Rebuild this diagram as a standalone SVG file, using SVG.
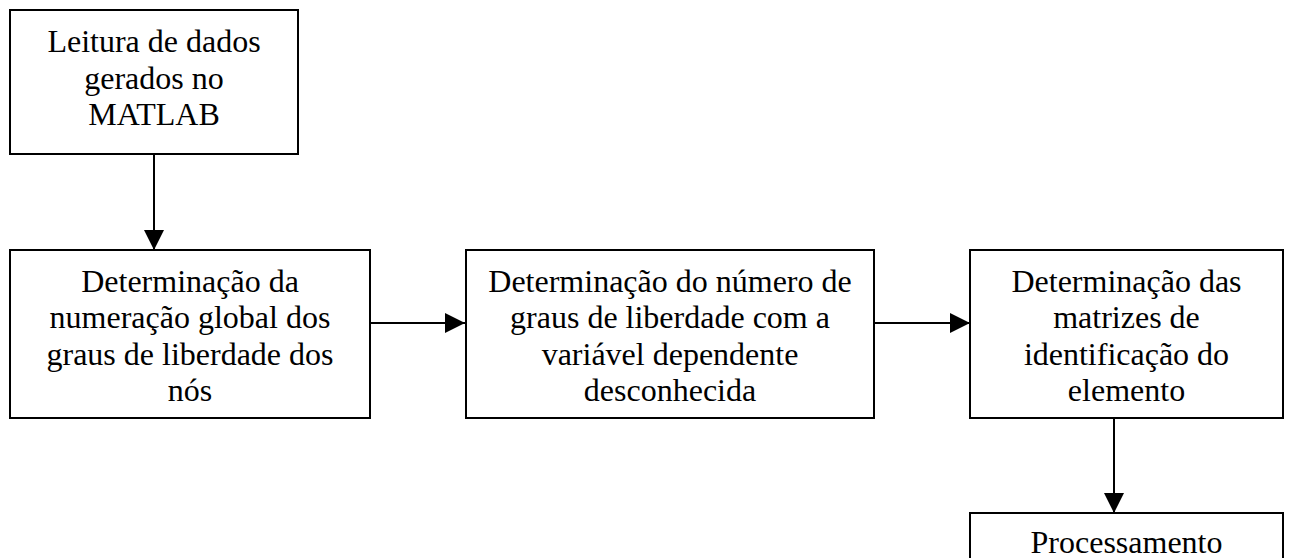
<svg xmlns="http://www.w3.org/2000/svg" width="1289" height="558" viewBox="0 0 1289 558">
<style>
.box{fill:#fff;stroke:#000;stroke-width:2}
.lbl{font-family:"Liberation Serif","Times New Roman",serif;font-size:32px;fill:#000;text-anchor:middle}
.edge{stroke:#000;stroke-width:2;fill:none}
</style>
<defs>
<marker id="ah" markerUnits="userSpaceOnUse" markerWidth="20" markerHeight="20" refX="20" refY="10" orient="auto" viewBox="0 0 20 20">
<path d="M0,0 L20,10 L0,20 z" fill="#000"/>
</marker>
</defs>
<rect width="1289" height="558" fill="#fff"/>
<g id="connectors">
<line class="edge" x1="154" y1="155" x2="154" y2="250" marker-end="url(#ah)"/>
<line class="edge" x1="371" y1="323" x2="465" y2="323" marker-end="url(#ah)"/>
<line class="edge" x1="875" y1="323" x2="970" y2="323" marker-end="url(#ah)"/>
<line class="edge" x1="1114" y1="419" x2="1114" y2="513" marker-end="url(#ah)"/>
</g>
<g id="n1">
<rect class="box" x="10" y="10" width="288" height="144"/>
<text class="lbl" x="154" y="52">Leitura de dados</text>
<text class="lbl" x="154" y="88.5">gerados no</text>
<text class="lbl" x="154" y="125">MATLAB</text>
</g>
<g id="n2">
<rect class="box" x="10" y="250" width="360" height="168"/>
<text class="lbl" x="190" y="291.5">Determinação da</text>
<text class="lbl" x="190" y="328">numeração global dos</text>
<text class="lbl" x="190" y="364.5">graus de liberdade dos</text>
<text class="lbl" x="190" y="401">nós</text>
</g>
<g id="n3">
<rect class="box" x="466" y="250" width="408" height="168"/>
<text class="lbl" x="670" y="291.5">Determinação do número de</text>
<text class="lbl" x="670" y="328">graus de liberdade com a</text>
<text class="lbl" x="670" y="364.5">variável dependente</text>
<text class="lbl" x="670" y="401">desconhecida</text>
</g>
<g id="n4">
<rect class="box" x="970" y="250" width="313" height="168"/>
<text class="lbl" x="1126.5" y="291.5">Determinação das</text>
<text class="lbl" x="1126.5" y="328">matrizes de</text>
<text class="lbl" x="1126.5" y="364.5">identificação do</text>
<text class="lbl" x="1126.5" y="401">elemento</text>
</g>
<g id="n5">
<rect class="box" x="970" y="513" width="313" height="80"/>
<text class="lbl" x="1126.5" y="553">Processamento</text>
</g>
</svg>
